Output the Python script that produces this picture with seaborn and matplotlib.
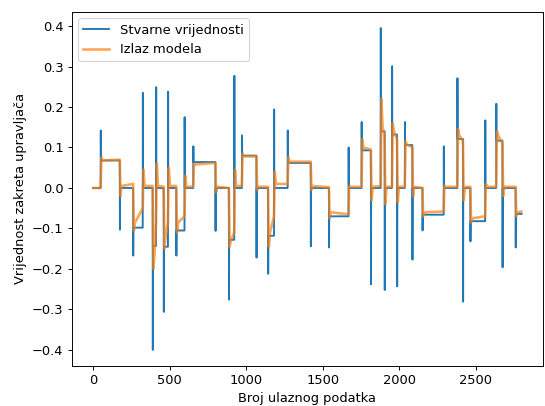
import numpy as np
import pandas as pd
import matplotlib
matplotlib.use('Agg')
import matplotlib.pyplot as plt
import seaborn as sns

# sample index where the true steering value changes, the one-sample spike there,
# and the level it settles to afterwards
change_idx = [50, 175, 262, 325, 390, 412, 462, 490, 544, 598, 655, 800, 888, 923,
              973, 1068, 1144, 1183, 1272, 1423, 1542, 1670, 1755, 1816, 1880, 1906,
              1954, 1987, 2038, 2087, 2153, 2292, 2381, 2418, 2466, 2563, 2635, 2676, 2762]
true_spike = [0.142, -0.103, -0.167, 0.235, -0.400, 0.249, -0.306, 0.238, -0.167, 0.175,
              0.103, -0.106, -0.276, 0.277, 0.130, -0.172, -0.212, 0.194, 0.142, -0.144,
              -0.147, 0.100, 0.163, -0.238, 0.395, -0.252, 0.301, -0.243, 0.163, -0.177,
              -0.105, 0.103, 0.271, -0.281, -0.132, 0.167, 0.208, -0.196, -0.147]
true_level = [0.068, 0.0, -0.098, 0.0, -0.143, 0.0, -0.145, 0.0, -0.105, 0.0,
              0.064, 0.0, -0.128, 0.0, 0.080, 0.0, -0.118, 0.0, 0.062, 0.0,
              -0.070, 0.0, 0.093, 0.0, 0.140, 0.0, 0.132, 0.0, 0.106, 0.0,
              -0.066, 0.0, 0.121, 0.0, -0.082, 0.0, 0.117, 0.0, -0.064]

# model output around each change: overshoot, value at start and end of the segment
model_peak = [0.075, -0.020, -0.105, 0.045, -0.200, 0.060, -0.150, 0.050, -0.110, 0.030,
              0.060, -0.010, -0.145, 0.045, 0.085, -0.005, -0.145, 0.040, 0.075, -0.005,
              -0.075, 0.005, 0.120, -0.030, 0.220, -0.040, 0.160, -0.035, 0.115, -0.020,
              -0.070, 0.005, 0.146, -0.030, -0.085, 0.010, 0.140, -0.020, -0.070]
model_start = [0.068, 0.005, -0.085, 0.005, -0.160, 0.005, -0.120, 0.005, -0.085, 0.003,
               0.058, 0.003, -0.130, 0.005, 0.078, 0.003, -0.110, 0.010, 0.065, 0.005,
               -0.060, 0.003, 0.100, 0.003, 0.150, 0.003, 0.140, 0.003, 0.108, 0.003,
               -0.060, 0.003, 0.130, 0.003, -0.075, 0.003, 0.130, 0.003, -0.060]
model_end = [0.070, 0.010, -0.050, 0.005, -0.090, 0.003, -0.085, 0.005, -0.070, 0.003,
             0.062, 0.000, -0.110, 0.005, 0.078, 0.003, -0.070, 0.010, 0.065, 0.002,
             -0.065, 0.003, 0.095, 0.005, 0.130, 0.003, 0.120, 0.003, 0.100, 0.000,
             -0.058, 0.003, 0.115, 0.003, -0.070, 0.003, 0.110, 0.003, -0.058]
n_samples = 2800

# true values: flat steps with a single-sample spike at each change
tx, ty = [0], [0.0]
prev = 0.0
for t, s, lv in zip(change_idx, true_spike, true_level):
    tx += [t - 1, t, t + 1]
    ty += [prev, s, lv]
    prev = lv
tx.append(n_samples)
ty.append(prev)
df_true = pd.DataFrame({'x': tx, 'y': ty})

# model output: lags a few samples and overshoots less
mx, my = [0], [0.0]
prev = 0.0
ends = change_idx[1:] + [n_samples]
for t, pk, st, en, nxt in zip(change_idx, model_peak, model_start, model_end, ends):
    mx += [t - 1, t + 4, t + 12, nxt - 1]
    my += [prev, pk, st, en]
    prev = en
df_model = pd.DataFrame({'x': mx, 'y': my})

plt.rcParams['font.size'] = 11

fig = plt.figure(figsize=(545 / 85, 406 / 85), dpi=85)
ax = fig.add_axes([0.1316, 0.0985, 0.8647, 0.872])

sns.lineplot(data=df_true, x='x', y='y', ax=ax, color='#1f77b4', lw=1.6,
             estimator=None, sort=False, label='Stvarne vrijednosti')
sns.lineplot(data=df_model, x='x', y='y', ax=ax, color='#ff7f0e', lw=2.2, alpha=0.7,
             estimator=None, sort=False, label='Izlaz modela')

ax.set_xlabel('Broj ulaznog podatka')
ax.set_ylabel('Vrijednost zakreta upravljača')
ax.legend(loc='upper left')

fig.savefig('out.png', dpi=85)
